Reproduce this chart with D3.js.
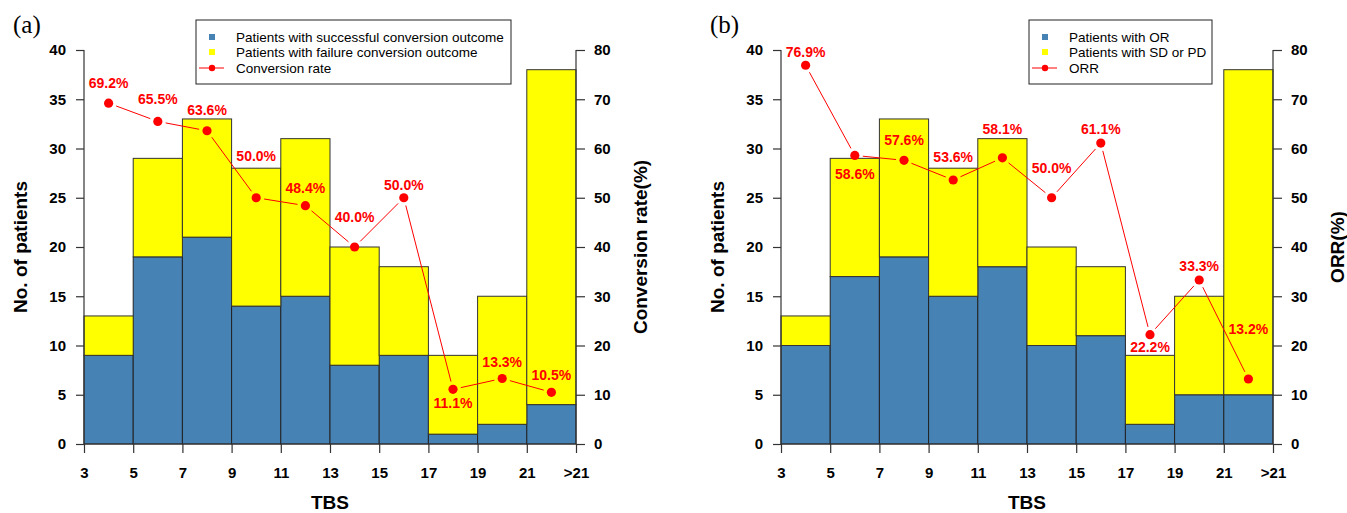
<!DOCTYPE html>
<meta charset="utf-8">
<style>
  body { margin: 0; background: #fff; }
  svg text { font-family: Arial, "Liberation Sans", sans-serif; }
  .tick-label { font-size: 15px; font-weight: bold; fill: #000; }
  .axis-title { font-size: 19px; font-weight: bold; fill: #000; }
  .rate-label { font-size: 14px; font-weight: bold; fill: #ff0000; }
  .legend-text { font-size: 13.5px; fill: #000; }
  .panel-tag { font-family: "Liberation Serif", "Times New Roman", serif !important; font-size: 25px; }
</style>
<body>
<script src="https://d3js.org/d3.v7.min.js"></script>
<script>

// bins of TBS (last one is ">21")
var binStarts = [3, 5, 7, 9, 11, 13, 15, 17, 19, 21];
var binEdges = [3, 5, 7, 9, 11, 13, 15, 17, 19, 21, 23];
var xTickLabels = ["3", "5", "7", "9", "11", "13", "15", "17", "19", "21", ">21"];
var countTicks = [0, 5, 10, 15, 20, 25, 30, 35, 40];
var rateTicks = [0, 10, 20, 30, 40, 50, 60, 70, 80];

// total patients per bin (same in both panels)
var totalPatients = [13, 29, 33, 28, 31, 20, 18, 9, 15, 38];

// panel (a)
var successCount = [9, 19, 21, 14, 15, 8, 9, 1, 2, 4];
var conversionRate = [69.2, 65.5, 63.6, 50.0, 48.4, 40.0, 50.0, 11.1, 13.3, 10.5];
var legendA = ["Patients with successful conversion outcome", "Patients with failure conversion outcome", "Conversion rate"];

// panel (b)
var orCount = [10, 17, 19, 15, 18, 10, 11, 2, 5, 5];
var orrRate = [76.9, 58.6, 57.6, 53.6, 58.1, 50.0, 61.1, 22.2, 33.3, 13.2];
var legendB = ["Patients with OR", "Patients with SD or PD", "ORR"];

// label nudges (px, vertical, relative to the point) as placed in the original
var labelDyA = [-20, -22, -21, -42, -18, -30, -13, 14, -16, -17];
var labelDyB = [-13, 19, -20, -23, -29, -30, -14, 12, -14, -50];

var blue = "#4682B4", yellow = "#FFFF00", red = "#FF0000";

var svg = d3.select("body").append("svg")
    .attr("width", 1347)
    .attr("height", 513);

function drawPanel(p) {
  var g = svg.append("g");

  var x = d3.scaleLinear().domain([3, 23]).range([p.left, p.right]);
  var y = d3.scaleLinear().domain([0, 40]).range([444, 50]);
  var y2 = d3.scaleLinear().domain([0, 80]).range([444, 50]);

  var rows = binStarts.map(function(b, i) {
    return {start: b, total: totalPatients[i], good: p.good[i], rate: p.rate[i], dy: p.dy[i]};
  });

  // bars: blue part then yellow part on top
  g.selectAll(".bar-good").data(rows).enter().append("rect")
      .attr("x", function(d) { return x(d.start); })
      .attr("width", function(d) { return x(d.start + 2) - x(d.start); })
      .attr("y", function(d) { return y(d.good); })
      .attr("height", function(d) { return y(0) - y(d.good); })
      .attr("fill", blue)
      .attr("stroke", "#222")
      .attr("stroke-width", 1);

  g.selectAll(".bar-bad").data(rows).enter().append("rect")
      .attr("x", function(d) { return x(d.start); })
      .attr("width", function(d) { return x(d.start + 2) - x(d.start); })
      .attr("y", function(d) { return y(d.total); })
      .attr("height", function(d) { return y(d.good) - y(d.total); })
      .attr("fill", yellow)
      .attr("stroke", "#333")
      .attr("stroke-width", 1);

  // left axis
  var left = g.append("g").attr("transform", "translate(" + p.left + ",0)")
      .call(d3.axisLeft(y).tickValues(countTicks).tickSize(8).tickPadding(10));
  // right axis
  var right = g.append("g").attr("transform", "translate(" + p.right + ",0)")
      .call(d3.axisRight(y2).tickValues(rateTicks).tickSize(9).tickPadding(9));
  // bottom axis
  var bottom = g.append("g").attr("transform", "translate(0,444)")
      .call(d3.axisBottom(x).tickValues(binEdges).tickSize(9).tickPadding(14)
        .tickFormat(function(d, i) { return xTickLabels[i]; }));

  [left, right, bottom].forEach(function(a) {
    a.select(".domain").attr("stroke", "#333").attr("stroke-width", 1.2);
    a.selectAll(".tick line").attr("stroke", "#333").attr("stroke-width", 1.2);
    a.selectAll(".tick text").attr("class", "tick-label").attr("font-family", null).attr("font-size", null);
  });
  bottom.select(".domain").attr("d", "M" + p.left + ",0H" + p.right);
  left.select(".domain").attr("d", "M0," + y(0) + "V" + y(40));
  right.select(".domain").attr("d", "M0," + y(0) + "V" + y(40));

  // rate line (type "b": segments with gaps round the points)
  var pts = rows.map(function(d) { return [x(d.start + 1), y2(d.rate)]; });
  var gap = 8;
  for (var i = 0; i < pts.length - 1; i++) {
    var a = pts[i], b = pts[i + 1];
    var dx = b[0] - a[0], dyy = b[1] - a[1];
    var len = Math.sqrt(dx * dx + dyy * dyy);
    if (len <= 2 * gap) continue;
    var ux = dx / len, uy = dyy / len;
    g.append("line")
        .attr("x1", a[0] + ux * gap).attr("y1", a[1] + uy * gap)
        .attr("x2", b[0] - ux * gap).attr("y2", b[1] - uy * gap)
        .attr("stroke", red).attr("stroke-width", 1);
  }
  g.selectAll(".pt").data(rows).enter().append("circle")
      .attr("cx", function(d) { return x(d.start + 1); })
      .attr("cy", function(d) { return y2(d.rate); })
      .attr("r", 4.6)
      .attr("fill", red);

  g.selectAll(".rate-label").data(rows).enter().append("text")
      .attr("class", "rate-label")
      .attr("text-anchor", "middle")
      .attr("x", function(d) { return x(d.start + 1); })
      .attr("y", function(d) { return y2(d.rate) + d.dy + 5; })
      .text(function(d) { return d.rate.toFixed(1) + "%"; });

  // titles
  g.append("text").attr("class", "axis-title")
      .attr("text-anchor", "middle")
      .attr("x", (p.left + p.right) / 2).attr("y", 509)
      .text("TBS");
  g.append("text").attr("class", "axis-title")
      .attr("text-anchor", "middle")
      .attr("transform", "translate(" + (p.left - 57) + ",247) rotate(-90)")
      .text("No. of patients");
  g.append("text").attr("class", "axis-title")
      .attr("text-anchor", "middle")
      .attr("transform", "translate(" + (p.right + 71) + ",247) rotate(-90)")
      .text(p.rightTitle);

  g.append("text").attr("class", "panel-tag")
      .attr("x", p.left - 71).attr("y", 33)
      .text(p.tag);

  // legend
  var lg = g.append("g").attr("transform", "translate(" + p.legX + ",20)");
  lg.append("rect").attr("x", 0).attr("y", 0)
      .attr("width", p.legW).attr("height", 64)
      .attr("fill", "#fff").attr("stroke", "#222").attr("stroke-width", 1);
  var rowY = [17, 32, 48];
  lg.append("rect").attr("x", 13).attr("y", rowY[0] - 3).attr("width", 6).attr("height", 6).attr("fill", blue);
  lg.append("rect").attr("x", 13).attr("y", rowY[1] - 3).attr("width", 6).attr("height", 6).attr("fill", yellow);
  lg.append("line").attr("x1", 3).attr("x2", 28).attr("y1", rowY[2]).attr("y2", rowY[2])
      .attr("stroke", red).attr("stroke-width", 1);
  lg.append("circle").attr("cx", 16).attr("cy", rowY[2]).attr("r", 3.2).attr("fill", red);
  p.legend.forEach(function(t, i) {
    lg.append("text").attr("class", "legend-text")
        .attr("x", 40).attr("y", rowY[i] + 5)
        .text(t);
  });
}

drawPanel({
  left: 84, right: 576, tag: "(a)",
  good: successCount, rate: conversionRate, dy: labelDyA,
  rightTitle: "Conversion rate(%)", legend: legendA,
  legX: 196, legW: 315
});

drawPanel({
  left: 781, right: 1273, tag: "(b)",
  good: orCount, rate: orrRate, dy: labelDyB,
  rightTitle: "ORR(%)", legend: legendB,
  legX: 1029, legW: 183
});

</script>
</body>
